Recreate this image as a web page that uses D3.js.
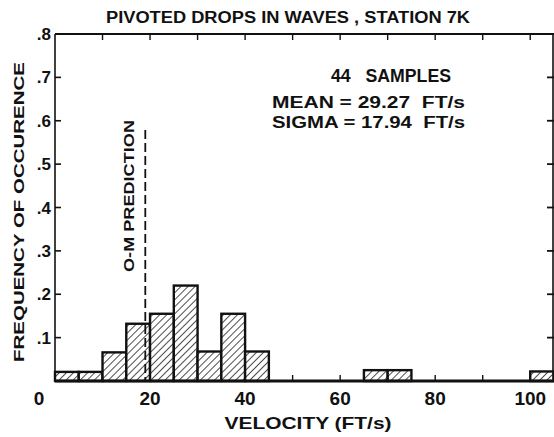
<!DOCTYPE html>
<html>
<head>
<meta charset="utf-8">
<script src="https://cdn.jsdelivr.net/npm/d3@7"></script>
<style>
  html, body { margin: 0; padding: 0; background: #fff; }
  svg text { font-family: "Liberation Sans", Arial, sans-serif; font-weight: bold; fill: #111; white-space: pre; }
</style>
</head>
<body>
<div id="chart"></div>
<script>
// histogram bins (ft/s), 5 ft/s wide
const binStart = [0, 5, 10, 15, 20, 25, 30, 35, 40, 65, 70, 100];
const frequency = [0.021, 0.021, 0.066, 0.132, 0.155, 0.22, 0.068, 0.155, 0.068, 0.025, 0.025, 0.022];
const binWidth = 5;

const xTicks = [0, 20, 40, 60, 80, 100];
const xMinorTicks = [10, 20, 30, 40, 50, 60, 70, 80, 90, 100];
const yTicks = [0.1, 0.2, 0.3, 0.4, 0.5, 0.6, 0.7, 0.8];
const omPrediction = 19;

const width = 554, height = 437;
const margin = { top: 34, right: 0, bottom: 56, left: 55 };

const svg = d3.select('#chart')
  .append('svg')
  .attr('width', width)
  .attr('height', height);

const x = d3.scaleLinear().domain([0, 105]).range([margin.left, width - margin.right]);
const y = d3.scaleLinear().domain([0, 0.8]).range([height - margin.bottom, margin.top]);

// hatch pattern
const defs = svg.append('defs');
const pat = defs.append('pattern')
  .attr('id', 'hatch')
  .attr('patternUnits', 'userSpaceOnUse')
  .attr('width', 5)
  .attr('height', 5)
  .attr('patternTransform', 'rotate(45)');
pat.append('rect').attr('width', 5).attr('height', 5).attr('fill', '#fff');
pat.append('line')
  .attr('x1', 0).attr('y1', 0).attr('x2', 0).attr('y2', 5)
  .attr('stroke', '#111').attr('stroke-width', 1.5);

// bars
svg.append('g')
  .selectAll('rect')
  .data(binStart.map((b, i) => ({ b, f: frequency[i] })))
  .join('rect')
  .attr('x', d => x(d.b))
  .attr('y', d => y(d.f))
  .attr('width', d => x(d.b + binWidth) - x(d.b))
  .attr('height', d => y(0) - y(d.f))
  .attr('fill', 'url(#hatch)')
  .attr('stroke', '#111')
  .attr('stroke-width', 2.4);

// frame: left, top, right, bottom
const frame = svg.append('g').attr('stroke', '#111').attr('fill', 'none');
frame.append('line').attr('x1', x(0)).attr('x2', x(0)).attr('y1', y(0.8)).attr('y2', y(0)).attr('stroke-width', 1.6);
frame.append('line').attr('x1', x(0)).attr('x2', x(105)).attr('y1', y(0.8)).attr('y2', y(0.8)).attr('stroke-width', 2);
frame.append('line').attr('x1', x(105) - 1).attr('x2', x(105) - 1).attr('y1', y(0.8)).attr('y2', y(0)).attr('stroke-width', 1.6);
frame.append('line').attr('x1', x(0)).attr('x2', x(105)).attr('y1', y(0)).attr('y2', y(0)).attr('stroke-width', 3);

// ticks
frame.selectAll('.xb')
  .data(xMinorTicks)
  .join('line')
  .attr('class', 'xb')
  .attr('x1', d => x(d)).attr('x2', d => x(d))
  .attr('y1', y(0)).attr('y2', y(0) - 6)
  .attr('stroke-width', 1.4);
frame.selectAll('.xt')
  .data(xMinorTicks)
  .join('line')
  .attr('class', 'xt')
  .attr('x1', d => x(d)).attr('x2', d => x(d))
  .attr('y1', y(0.8)).attr('y2', y(0.8) + 6)
  .attr('stroke-width', 1.4);
frame.selectAll('.yl')
  .data(yTicks)
  .join('line')
  .attr('class', 'yl')
  .attr('x1', x(0)).attr('x2', x(0) + 6)
  .attr('y1', d => y(d)).attr('y2', d => y(d))
  .attr('stroke-width', 1.6);
frame.selectAll('.yr')
  .data(yTicks)
  .join('line')
  .attr('class', 'yr')
  .attr('x1', x(105)).attr('x2', x(105) - 7)
  .attr('y1', d => y(d)).attr('y2', d => y(d))
  .attr('stroke-width', 1.8);

// tick labels
svg.append('g')
  .selectAll('text')
  .data(xTicks)
  .join('text')
  .attr('x', d => d === 0 ? x(d) - 16 : x(d))
  .attr('y', 405)
  .attr('text-anchor', 'middle')
  .attr('font-size', 19)
  .text(d => d);

svg.append('g')
  .selectAll('text')
  .data(yTicks)
  .join('text')
  .attr('x', x(0) - 4)
  .attr('y', d => y(d) + 6)
  .attr('text-anchor', 'end')
  .attr('font-size', 17)
  .text(d => d3.format('.1f')(d).replace(/^0/, ''));

// O-M prediction
svg.append('line')
  .attr('x1', x(omPrediction)).attr('x2', x(omPrediction))
  .attr('y1', 130).attr('y2', y(0))
  .attr('stroke', '#111')
  .attr('stroke-width', 1.8)
  .attr('stroke-dasharray', '9,4');
svg.append('text')
  .attr('transform', 'translate(134,196) rotate(-90)')
  .attr('text-anchor', 'middle')
  .attr('font-size', 15)
  .attr('textLength', 152)
  .attr('lengthAdjust', 'spacingAndGlyphs')
  .text('O-M PREDICTION');

// titles
svg.append('text')
  .attr('x', 288).attr('y', 23)
  .attr('text-anchor', 'middle')
  .attr('font-size', 16)
  .attr('textLength', 364)
  .attr('lengthAdjust', 'spacingAndGlyphs')
  .text('PIVOTED DROPS IN WAVES , STATION 7K');

svg.append('text')
  .attr('x', 308).attr('y', 429)
  .attr('text-anchor', 'middle')
  .attr('font-size', 17)
  .attr('textLength', 167)
  .attr('lengthAdjust', 'spacingAndGlyphs')
  .text('VELOCITY (FT/s)');

svg.append('text')
  .attr('transform', 'translate(24,212) rotate(-90)')
  .attr('text-anchor', 'middle')
  .attr('font-size', 15)
  .attr('textLength', 300)
  .attr('lengthAdjust', 'spacingAndGlyphs')
  .text('FREQUENCY OF OCCURENCE');

// stats box
const stats = svg.append('g').attr('font-size', 16);
stats.append('text').attr('x', 331).attr('y', 82).attr('font-size', 18)
  .attr('textLength', 120).attr('lengthAdjust', 'spacingAndGlyphs').text('44   SAMPLES');
stats.append('text').attr('x', 272).attr('y', 108)
  .attr('textLength', 193).attr('lengthAdjust', 'spacingAndGlyphs').text('MEAN = 29.27  FT/s');
stats.append('text').attr('x', 272).attr('y', 128)
  .attr('textLength', 193).attr('lengthAdjust', 'spacingAndGlyphs').text('SIGMA = 17.94  FT/s');
</script>
</body>
</html>
